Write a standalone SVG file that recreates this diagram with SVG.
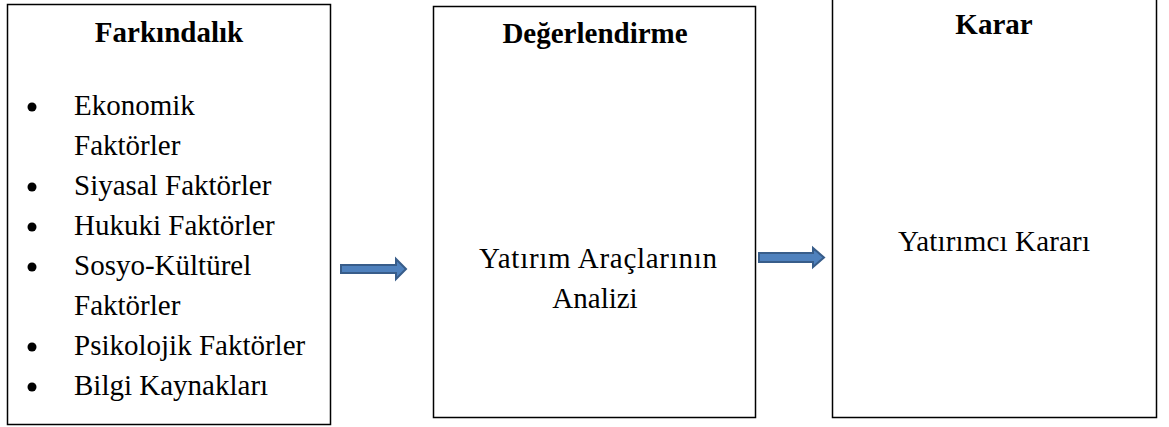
<svg xmlns="http://www.w3.org/2000/svg" width="1169" height="427" viewBox="0 0 1169 427">
<style>
.box{fill:#fff;stroke:#000;stroke-width:1.5}
.t{font-family:'Liberation Serif','Times New Roman',serif;font-size:29px;fill:#000}
.b{font-weight:bold}
.m{text-anchor:middle}
.arr{fill:#4F81BD;stroke:#385D8A;stroke-width:2;stroke-linejoin:miter}
</style>
<rect width="1169" height="427" fill="#fff"/>
<g id="farkindalik">
<rect class="box" x="7.5" y="4.5" width="323" height="420"/>
<text class="t b m" x="169" y="42">Farkındalık</text>
<g fill="#000">
<circle cx="32" cy="107" r="4.5"/>
<circle cx="32" cy="187" r="4.5"/>
<circle cx="32" cy="227" r="4.5"/>
<circle cx="32" cy="267" r="4.5"/>
<circle cx="32" cy="347" r="4.5"/>
<circle cx="32" cy="387" r="4.5"/>
</g>
<text class="t" x="74" y="115">Ekonomik</text>
<text class="t" x="74" y="155">Faktörler</text>
<text class="t" x="74" y="195">Siyasal Faktörler</text>
<text class="t" x="74" y="235">Hukuki Faktörler</text>
<text class="t" x="74" y="275">Sosyo-Kültürel</text>
<text class="t" x="74" y="315">Faktörler</text>
<text class="t" x="74" y="355">Psikolojik Faktörler</text>
<text class="t" x="74" y="395">Bilgi Kaynakları</text>
</g>
<g id="degerlendirme">
<rect class="box" x="433.5" y="6.5" width="322" height="411"/>
<text class="t b m" x="595" y="43">Değerlendirme</text>
<text class="t m" x="598" y="268" textLength="238" lengthAdjust="spacing">Yatırım Araçlarının</text>
<text class="t m" x="595" y="308">Analizi</text>
</g>
<g id="karar">
<rect class="box" x="832.5" y="-2" width="324" height="419.5"/>
<text class="t b m" x="994" y="34">Karar</text>
<text class="t m" x="994" y="251" textLength="192" lengthAdjust="spacing">Yatırımcı Kararı</text>
</g>
<g id="connectors">
<path class="arr" d="M341,265 H396 V259 L406,269 L396,279 V273 H341 Z"/>
<path class="arr" d="M759,253 H813 V248 L824,257.5 L813,267 V262 H759 Z"/>
</g>
</svg>
